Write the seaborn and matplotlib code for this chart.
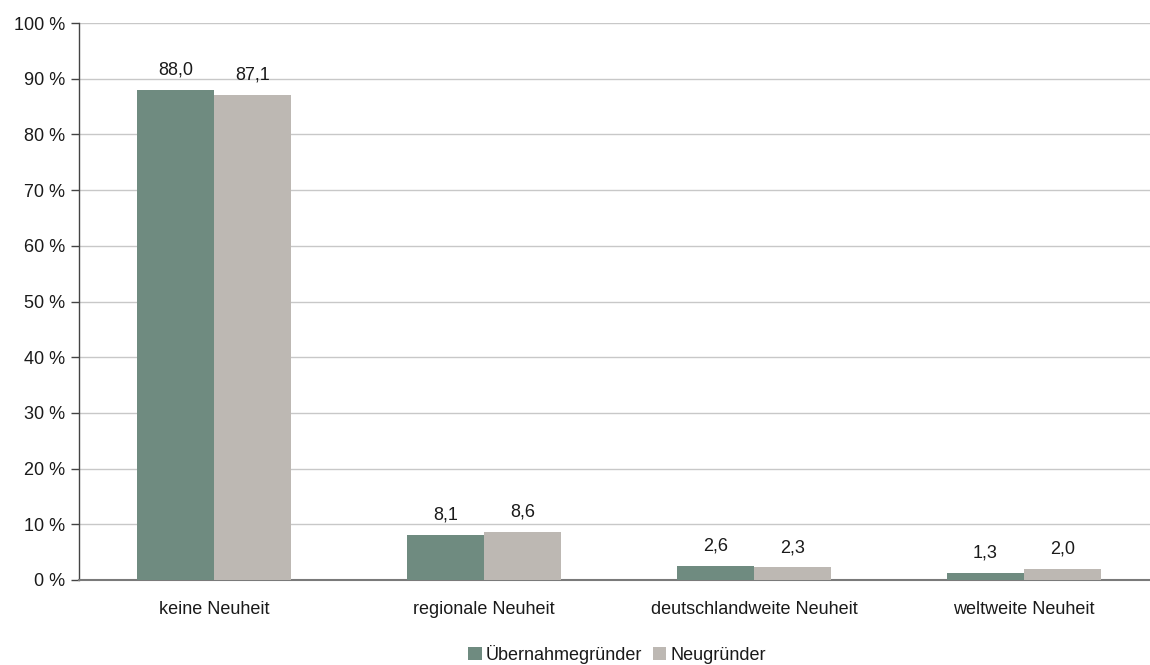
import matplotlib
matplotlib.use("Agg")
import matplotlib.pyplot as plt
import seaborn as sns
import pandas as pd

categories = ["keine Neuheit", "regionale Neuheit", "deutschlandweite Neuheit", "weltweite Neuheit"]
series_names = ["Übernahmegründer", "Neugründer"]
uebernahme = [88.0, 8.1, 2.6, 1.3]
neu = [87.1, 8.6, 2.3, 2.0]
y_ticks = [0, 10, 20, 30, 40, 50, 60, 70, 80, 90, 100]
colors = ["#6f8b80", "#bdb8b3"]

df = pd.DataFrame({
    "Kategorie": categories * 2,
    "Gruppe": [series_names[0]] * 4 + [series_names[1]] * 4,
    "Wert": uebernahme + neu,
})

sns.set_theme(style="white")
plt.rcParams["font.family"] = ["Liberation Sans", "DejaVu Sans"]
fs = 13

fig = plt.figure(figsize=(11.5, 6.65), dpi=100)
# plot area runs slightly past the right figure edge
ax = fig.add_axes([79 / 1150, 85 / 665, 1080 / 1150, 557 / 665])

sns.barplot(data=df, x="Kategorie", y="Wert", hue="Gruppe", order=categories,
            hue_order=series_names, palette=colors, width=0.57, saturation=1,
            linewidth=0, ax=ax, legend=True, zorder=3)

ax.set_ylim(0, 100)
ax.set_xlim(-0.5, 3.5)
ax.set_yticks(y_ticks)
ax.set_yticklabels([f"{v} %" for v in y_ticks], fontsize=fs, color="#1a1a1a")
ax.yaxis.grid(True, color="#c8c8c8", linewidth=1, zorder=0)
ax.set_axisbelow(True)

for c in ax.containers:
    ax.bar_label(c, labels=[f"{v:.1f}".replace(".", ",") for v in c.datavalues],
                 padding=8, fontsize=fs, color="#1a1a1a")

ax.set_xlabel("")
ax.set_ylabel("")
ax.tick_params(axis="x", which="major", length=0, pad=15, labelsize=fs, labelcolor="#1a1a1a")
ax.set_xticks([-0.5, 0.5, 1.5, 2.5, 3.5], minor=True)
ax.tick_params(axis="x", which="minor", length=6, width=1, color="#6e6e6e", direction="out")
ax.tick_params(axis="y", length=6, width=1, color="#444444", direction="out", pad=4, left=True)

for s in ["top", "right"]:
    ax.spines[s].set_visible(False)
ax.spines["left"].set_color("#444444")
ax.spines["left"].set_linewidth(1)
ax.spines["bottom"].set_color("#7a7a7a")
ax.spines["bottom"].set_linewidth(1.5)

leg = ax.legend(loc="center", bbox_to_anchor=(617 / 1150, 11 / 665),
                bbox_transform=fig.transFigure, ncol=2, frameon=False,
                fontsize=fs, handlelength=0.75, handleheight=0.75,
                handletextpad=0.2, columnspacing=0.6, borderpad=0)
for t in leg.get_texts():
    t.set_color("#1a1a1a")

fig.savefig("out.png", dpi=100)
